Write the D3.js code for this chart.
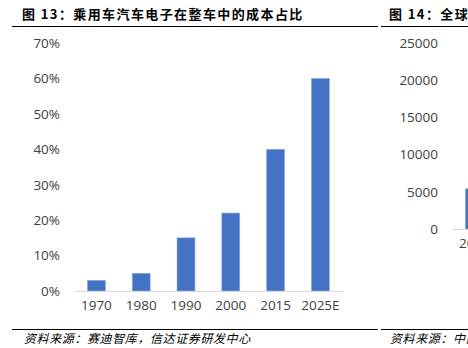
<!DOCTYPE html>
<html>
<head>
<meta charset="utf-8">
<script src="https://cdn.jsdelivr.net/npm/d3@7"></script>
<style>
  html, body { margin: 0; padding: 0; background: #fff; overflow: hidden; }
  svg { display: block; }
</style>
</head>
<body>
<svg id="page" width="468" height="348"></svg>
<script>
// Figure 13: share of electronics in passenger-car cost
const categories = ["1970", "1980", "1990", "2000", "2015", "2025E"];
const shares = [3, 5, 15, 22, 40, 60];
const shareTicks = [0, 10, 20, 30, 40, 50, 60, 70];

// Figure 14 (neighbouring panel, only its left edge fits on the page)
const marketCategories = ["2017"];
const marketValues = [5400];
const marketTicks = [0, 5000, 10000, 15000, 20000, 25000];

const titleLeft = "图 13：乘用车汽车电子在整车中的成本占比";
const titleRight = "图 14：全球汽车电子市场规模";
const sourceLeft = "资料来源：赛迪智库，信达证券研发中心";
const sourceRight = "资料来源：中商产业研究院";

const svg = d3.select("#page");
const tickFont = "'Open Sans', 'Liberation Sans', sans-serif";
const cjkFont = "'Noto Sans CJK SC', sans-serif";
const barColor = "#4472C4";
const axisColor = "#D9D9D9";
const textColor = "#404040";

// ---- headers and rules ----
svg.append("text")
  .attr("x", 22).attr("y", 19)
  .attr("font-family", cjkFont).attr("font-weight", "bold")
  .attr("font-size", 13).attr("letter-spacing", 1.4)
  .attr("fill", "#000").text(titleLeft);
svg.append("text")
  .attr("x", 389).attr("y", 19)
  .attr("font-family", cjkFont).attr("font-weight", "bold")
  .attr("font-size", 13).attr("letter-spacing", 1.4)
  .attr("fill", "#000").text(titleRight);

[[12, 378], [381, 468]].forEach(([x1, x2]) => {
  svg.append("line").attr("x1", x1).attr("x2", x2)
    .attr("y1", 26.5).attr("y2", 26.5)
    .attr("stroke", "#000").attr("stroke-width", 1);
  svg.append("line").attr("x1", x1).attr("x2", x2)
    .attr("y1", 329.5).attr("y2", 329.5)
    .attr("stroke", "#000").attr("stroke-width", 1);
});

svg.append("text")
  .attr("x", 24).attr("y", 343)
  .attr("font-family", cjkFont).attr("font-style", "italic")
  .attr("font-size", 12).attr("letter-spacing", 0.6)
  .attr("fill", "#000").text(sourceLeft);
svg.append("text")
  .attr("x", 390).attr("y", 343)
  .attr("font-family", cjkFont).attr("font-style", "italic")
  .attr("font-size", 12).attr("letter-spacing", 0.6)
  .attr("fill", "#000").text(sourceRight);

// ---- a simple column chart drawer ----
function columnChart(g, opts) {
  const x = d3.scaleBand()
    .domain(opts.categories)
    .range([opts.x0, opts.x0 + opts.step * opts.categories.length])
    .paddingInner(0.6).paddingOuter(0.3);
  const y = d3.scaleLinear().domain(opts.domain).range([opts.y0, opts.y1]);

  // value axis: labels only, no line or ticks
  const yAxis = d3.axisLeft(y).tickValues(opts.ticks)
    .tickSize(0).tickPadding(0).tickFormat(opts.format);
  const ya = g.append("g")
    .attr("transform", `translate(${opts.labelRight},0)`)
    .call(yAxis);
  ya.select(".domain").remove();
  ya.selectAll("text")
    .attr("font-family", tickFont).attr("font-size", 13.5)
    .attr("fill", textColor);

  // bars
  g.append("g").selectAll("rect")
    .data(opts.values)
    .join("rect")
    .attr("x", (d, i) => x(opts.categories[i]))
    .attr("width", x.bandwidth())
    .attr("y", d => y(d))
    .attr("height", d => y(0) - y(d))
    .attr("fill", barColor)
    .attr("stroke", "#8FAADC").attr("stroke-width", 0.6);

  // category axis
  const xAxis = d3.axisBottom(x).tickSize(0).tickPadding(9);
  const xa = g.append("g")
    .attr("transform", `translate(0,${y(0)})`)
    .call(xAxis);
  xa.select(".domain")
    .attr("stroke", axisColor).attr("stroke-width", 1.2);
  xa.selectAll("text")
    .attr("font-family", tickFont).attr("font-size", 13.5)
    .attr("fill", textColor);
}

columnChart(svg.append("g"), {
  categories, values: shares, ticks: shareTicks,
  domain: [0, 70], y0: 291, y1: 43,
  x0: 74, step: 44.8, labelRight: 60,
  format: d => d + "%"
});

columnChart(svg.append("g"), {
  categories: marketCategories, values: marketValues, ticks: marketTicks,
  domain: [0, 25000], y0: 229, y1: 43,
  x0: 452, step: 44.8, labelRight: 438,
  format: d => String(d)
});
</script>
</body>
</html>
